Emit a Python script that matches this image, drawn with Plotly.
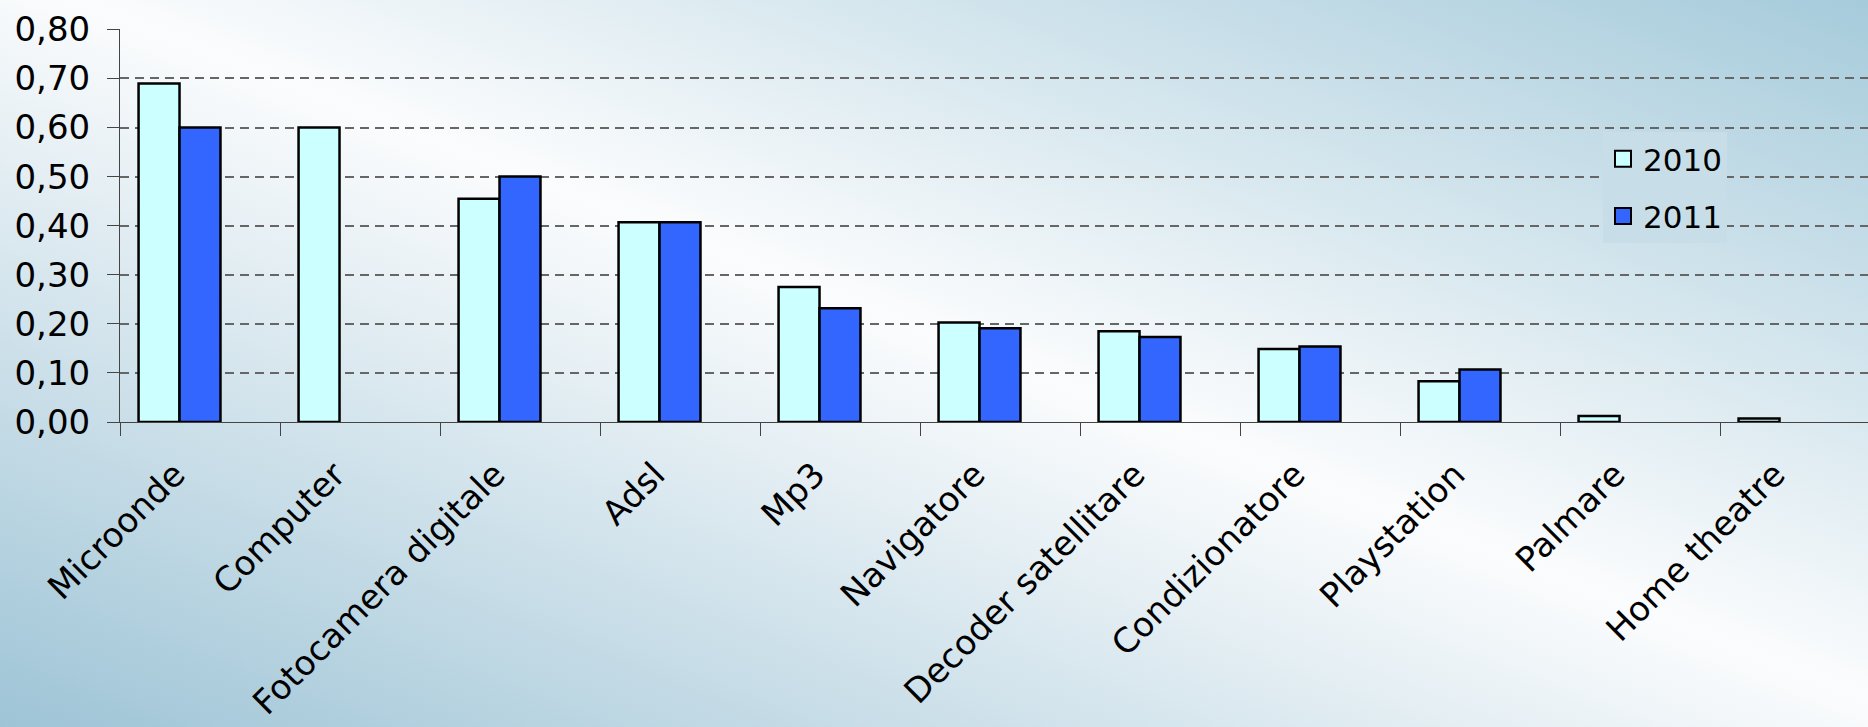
import base64
import plotly.graph_objects as go

# Share of households owning each device, 2010 vs 2011
categories = [
    "Microonde", "Computer", "Fotocamera digitale", "Adsl", "Mp3",
    "Navigatore", "Decoder satellitare", "Condizionatore", "Playstation",
    "Palmare", "Home theatre",
]
values_2010 = [0.69, 0.60, 0.455, 0.407, 0.275, 0.203, 0.185, 0.149, 0.083, 0.012, 0.007]
values_2011 = [0.60, None, 0.50, 0.407, 0.232, 0.191, 0.173, 0.154, 0.107, None, None]
y_ticks = [0.0, 0.1, 0.2, 0.3, 0.4, 0.5, 0.6, 0.7, 0.8]
series_names = ["2010", "2011"]
series_colors = ["#CCFFFF", "#3366FF"]

W, H = 1868, 727
ML, MR, MT, MB = 120, 0, 29, 305
PW, PH = W - ML - MR, H - MT - MB

FONT = "DejaVu Sans"

# diagonal blue-white-blue background wash
svg = (
    f'<svg xmlns="http://www.w3.org/2000/svg" width="{W}" height="{H}" '
    f'viewBox="0 0 {W} {H}" preserveAspectRatio="none">'
    '<defs><linearGradient id="g" x1="0" y1="1" x2="1" y2="0">'
    '<stop offset="0" stop-color="#9ec4d6"/>'
    '<stop offset="0.52" stop-color="#fbfcfd"/>'
    '<stop offset="1" stop-color="#a6cbdb"/>'
    '</linearGradient></defs>'
    f'<rect width="{W}" height="{H}" fill="url(#g)"/></svg>'
)
bg_src = "data:image/svg+xml;base64," + base64.b64encode(svg.encode()).decode()

bar_w = 0.256
offsets = [-0.384, -0.128]
fig = go.Figure()
for name, vals, color, off in zip(series_names, [values_2010, values_2011], series_colors, offsets):
    fig.add_trace(go.Bar(
        name=name, x=categories, y=vals,
        width=bar_w, offset=off,
        marker=dict(color=color, line=dict(color="black", width=2.5)),
        showlegend=False,
    ))

# legend entries with larger square swatches
for name, color in zip(series_names, series_colors):
    fig.add_trace(go.Scatter(
        name=name, x=[None], y=[None], mode="markers",
        marker=dict(symbol="square", size=16, color=color,
                    line=dict(color="black", width=2)),
        legendgroup=name, showlegend=True,
    ))

fig.update_layout(
    width=W, height=H,
    margin=dict(l=ML, r=MR, t=MT, b=MB, pad=0, autoexpand=False),
    paper_bgcolor="white",
    plot_bgcolor="rgba(0,0,0,0)",
    separators=",.",
    barmode="group",
    showlegend=True,
    font=dict(family=FONT, color="black"),
    legend=dict(
        x=(1603 - ML) / PW, y=(422 - 132) / PH,
        xanchor="left", yanchor="top",
        font=dict(family=FONT, size=31, color="black"),
        bgcolor="rgb(199,222,232)",
        borderwidth=0,
        traceorder="grouped",
        tracegroupgap=14,
        itemwidth=30,
    ),
    images=[dict(
        source=bg_src, xref="paper", yref="paper",
        x=-ML / PW, y=1 + MT / PH,
        sizex=W / PW, sizey=H / PH,
        xanchor="left", yanchor="top",
        sizing="stretch", layer="below",
    )],
)

fig.update_xaxes(
    type="category",
    range=[-0.5, 10.5 - 12 / 160],
    tickson="boundaries",
    ticks="outside", ticklen=13, tickcolor="#444", tickwidth=1,
    ticklabelstandoff=18, ticklabelshift=-25,
    showline=True, linecolor="#444", linewidth=1,
    showgrid=False,
    tickangle=-45,
    automargin=False,
    tickfont=dict(family=FONT, size=34, color="black"),
)
fig.update_yaxes(
    range=[0, 0.8008],
    tickvals=y_ticks,
    tickformat=".2f",
    ticks="outside", ticklen=12, tickcolor="#444", tickwidth=1,
    ticklabelstandoff=10,
    showline=True, linecolor="#444", linewidth=1,
    showgrid=True, gridcolor="#666", gridwidth=1.5, griddash="9px,6px",
    zeroline=False,
    automargin=False,
    tickfont=dict(family=FONT, size=34, color="black"),
)

fig.write_html("out.html")
